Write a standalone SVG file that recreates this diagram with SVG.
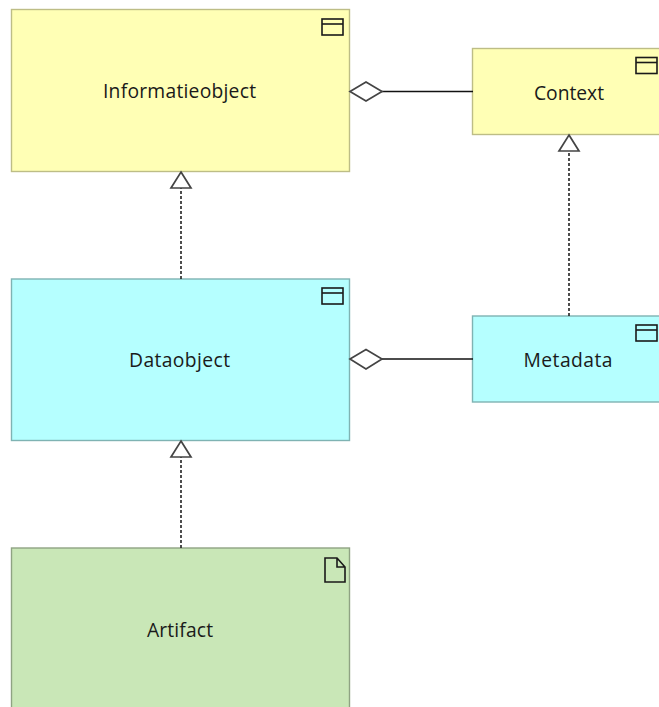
<svg xmlns="http://www.w3.org/2000/svg" width="659" height="707" viewBox="0 0 659 707">
<style>
.y{fill:#ffffb5;stroke:#bdbd86;stroke-width:1.4}
.c{fill:#b5ffff;stroke:#7fb3b3;stroke-width:1.4}
.g{fill:#c9e7b7;stroke:#8fa383;stroke-width:1.4}
.t{font-family:"Open Sans","Noto Sans",sans-serif;font-size:19.300px;fill:#1a1a1a;text-anchor:middle}
.i{fill:none;stroke:#1a1a1a;stroke-width:1.6}
.l{stroke:#111;stroke-width:1.6;fill:none}
.d{stroke:#222;stroke-width:1.6;fill:none;stroke-dasharray:3 2}
.h{fill:#fff;stroke:#444;stroke-width:1.7}
</style>
<rect width="659" height="707" fill="#fff"/>
<g id="informatieobject"><rect class="y" x="11.500" y="9.500" width="338" height="162"/><rect class="i" x="322" y="19" width="21" height="16"/><path class="i" d="M322 24H343"/><text class="t" x="179.500" y="98" textLength="153" lengthAdjust="spacing">Informatieobject</text></g>
<g id="context"><rect class="y" x="472.500" y="48.500" width="190" height="86"/><rect class="i" x="636" y="57.500" width="21" height="16"/><path class="i" d="M636 62.500H657"/><text class="t" x="569" y="100" textLength="70" lengthAdjust="spacing">Context</text></g>
<g id="dataobject"><rect class="c" x="11.500" y="279" width="338" height="161.500"/><rect class="i" x="322" y="288" width="21" height="16"/><path class="i" d="M322 293H343"/><text class="t" x="179.500" y="367" textLength="101" lengthAdjust="spacing">Dataobject</text></g>
<g id="metadata"><rect class="c" x="472.500" y="316" width="190" height="86"/><rect class="i" x="636" y="325" width="21" height="16"/><path class="i" d="M636 330H657"/><text class="t" x="568" y="367" textLength="89" lengthAdjust="spacing">Metadata</text></g>
<g id="artifact"><rect class="g" x="11.500" y="548" width="338" height="170"/><path class="i" d="M325 558H337L345 567V582H325ZM337 558V567H345"/><text class="t" x="180" y="636.500" textLength="66" lengthAdjust="spacing">Artifact</text></g>
<g id="connectors">
<path class="l" d="M381 91.500H473"/><path class="h" d="M350 91.500L366 82L382 91.500L366 101Z"/>
<path class="l" d="M381 359H473"/><path class="h" d="M350 359L366 349.500L382 359L366 369Z"/>
<path class="d" d="M181 279V188"/><path class="h" d="M181 172L191 188H171Z"/>
<path class="d" d="M181 548V457"/><path class="h" d="M181 441L191 457H171Z"/>
<path class="d" d="M569 316V151"/><path class="h" d="M569 135L579 151H559Z"/>
</g>
</svg>
